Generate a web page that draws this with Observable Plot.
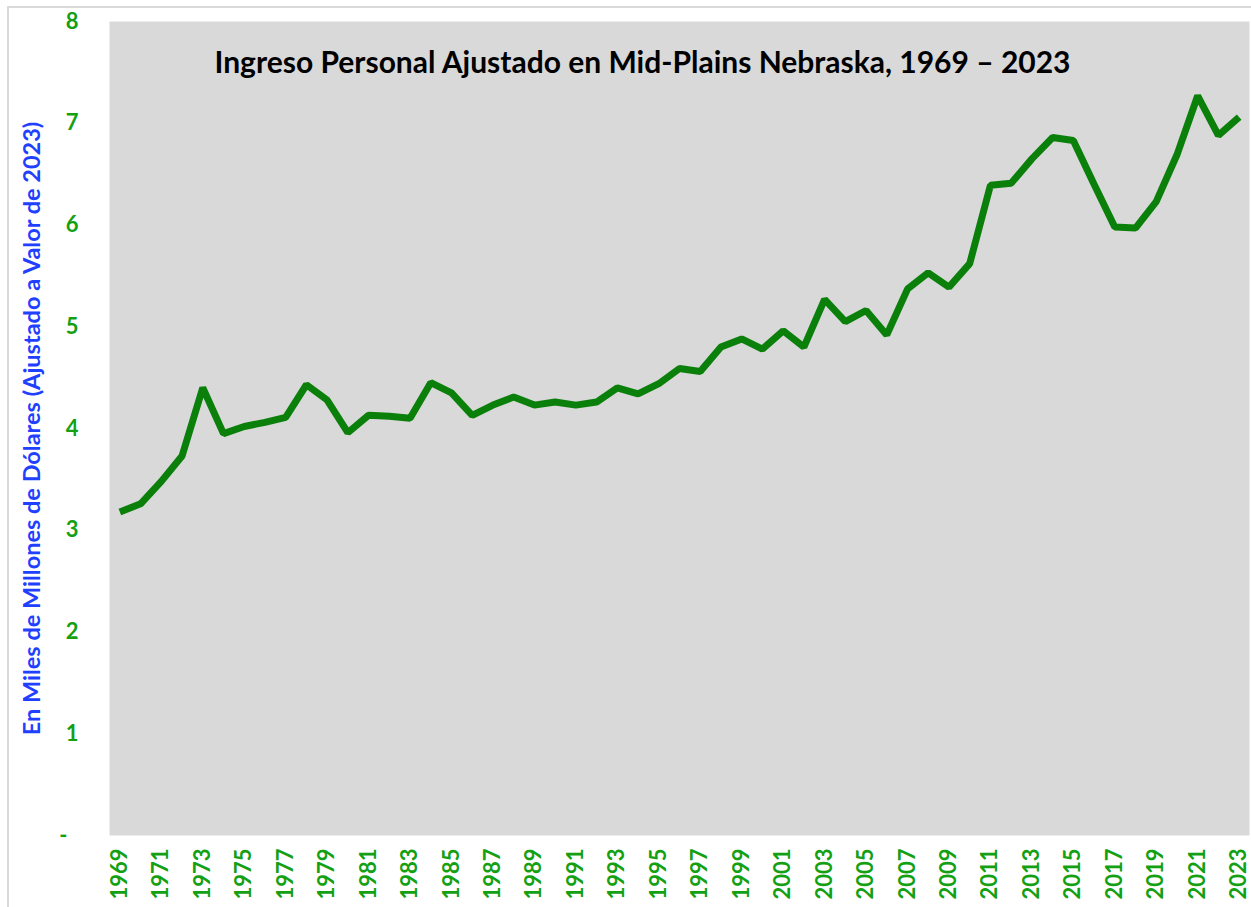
<!DOCTYPE html>
<html>
<head>
<meta charset="utf-8">
<script src="https://cdn.jsdelivr.net/npm/d3@7"></script>
<script src="https://cdn.jsdelivr.net/npm/@observablehq/plot@0.6"></script>
<style>
  html, body { margin: 0; padding: 0; background: #fff; }
  #wrap { position: relative; width: 1251px; height: 907px; overflow: hidden; }
  #frame { position: absolute; left: 7px; top: 6px; width: 1260px; height: 920px; border: 2px solid #d9d9d9; box-sizing: border-box; pointer-events: none; }
  #chart { position: absolute; left: 0; top: 0; }
</style>
</head>
<body>
<div id="wrap"><div id="frame"></div><div id="chart"></div></div>
<script>
const title = "Ingreso Personal Ajustado en Mid-Plains Nebraska, 1969 – 2023";
const yLabel = "En Miles de Millones de Dólares (Ajustado a Valor de 2023)";
const years = d3.range(1969, 2024);
const income = [
  3.18, 3.26, 3.48, 3.73, 4.40, 3.95, 4.02, 4.06, 4.11, 4.43,
  4.28, 3.96, 4.13, 4.12, 4.10, 4.45, 4.35, 4.13, 4.23, 4.31,
  4.23, 4.26, 4.23, 4.26, 4.40, 4.34, 4.44, 4.59, 4.56, 4.80,
  4.88, 4.78, 4.96, 4.80, 5.27, 5.05, 5.16, 4.92, 5.37, 5.53,
  5.39, 5.62, 6.39, 6.41, 6.65, 6.86, 6.83, 6.40, 5.98, 5.97,
  6.23, 6.69, 7.27, 6.88, 7.06
];
const yTicks = [0, 1, 2, 3, 4, 5, 6, 7, 8];
const xTicks = years.filter(y => y % 2 === 1);

const data = years.map((y, i) => ({year: y, value: income[i]}));

const green = "#13a013";
const font = "Lato, 'Open Sans', sans-serif";

const chart = Plot.plot({
  width: 1251,
  height: 907,
  marginLeft: 109,
  marginRight: 2,
  marginTop: 21,
  marginBottom: 72,
  style: {fontFamily: font, background: "transparent"},
  x: {domain: [1968.5, 2023.5]},
  y: {domain: [0, 8]},
  marks: [
    Plot.frame({fill: "#d9d9d9", stroke: null}),
    Plot.axisX({
      ticks: xTicks, tickFormat: d => String(d), tickRotate: -90, tickSize: 0,
      tickPadding: 13, fill: green, fontSize: 22, fontWeight: "bold", label: null
    }),
    Plot.axisY({
      ticks: yTicks, tickFormat: d => d === 0 ? "-\u2002" : String(d), tickSize: 0,
      tickPadding: 31, fill: green, fontSize: 22, fontWeight: "bold",
      label: yLabel, labelAnchor: "center", labelArrow: "none", labelOffset: 86
    }),
    Plot.line(data, {x: "year", y: "value", stroke: "#0a800a", strokeWidth: 7, strokeLinejoin: "miter", strokeLinecap: "butt"}),
    Plot.text([title], {frameAnchor: "top", dx: -37, dy: 30, lineAnchor: "top", text: d => d, fontSize: 30, fontWeight: "bold", fill: "#000"})
  ]
});
document.getElementById("chart").appendChild(chart);
// style the y-axis label blue
chart.querySelectorAll("[aria-label='y-axis label'] text, [aria-label='y-axis label']").forEach(el => {
  el.setAttribute("fill", "#1f40ff");
  el.setAttribute("font-size", "23.5");
  el.setAttribute("font-weight", "bold");
});
</script>
</body>
</html>
